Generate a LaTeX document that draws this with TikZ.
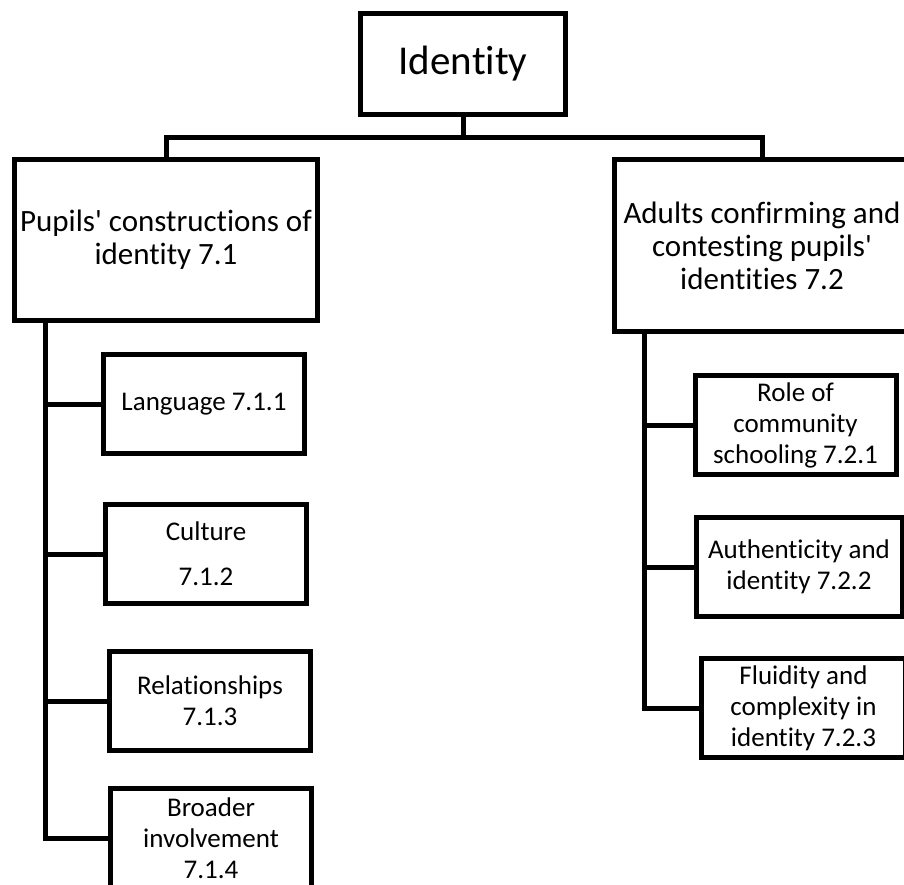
\documentclass[tikz,border=0pt]{standalone}
\usepackage{fontspec}
\setmainfont{Carlito}[Ligatures={NoCommon}]
\begin{document}
\begin{tikzpicture}[x=1pt,y=-1pt,
  box/.style={draw,line width=5pt,align=center,inner sep=0pt},
  topbox/.style={box,font=\fontsize{41}{48}\selectfont},
  midbox/.style={box,font=\fontsize{31}{33}\selectfont},
  subbox/.style={box,font=\fontsize{27}{31}\selectfont,minimum width=201pt,minimum height=99pt},
  link/.style={line width=5pt}]

% page frame
\clip (0,0) rectangle (904,885);

% top box
\node[topbox,minimum width=205pt,minimum height=101pt] (ident) at (463,64) {Identity};

% two main themes
\node[midbox,minimum width=303pt,minimum height=161pt] (pupils) at (166,240)
  {Pupils\textquotesingle{} constructions of\\identity 7.1};
\node[midbox,minimum width=295pt,minimum height=172pt] (adults) at (762,245.5)
  {Adults confirming and\\contesting pupils\textquotesingle\\identities 7.2};

% sub themes, left
\node[subbox] (lang) at (204,404) {Language 7.1.1};
\node[subbox] (cult) at (206,554) {Culture\\[14pt]7.1.2};
\node[subbox] (rel) at (210,701) {Relationships\\7.1.3};
\node[subbox] (broad) at (211,838) {Broader\\involvement\\7.1.4};

% sub themes, right
\node[subbox] (role) at (795.5,425) {Role of\\community\\schooling 7.2.1};
\node[subbox,minimum width=206pt] (auth) at (799,567) {Authenticity and\\identity 7.2.2};
\node[subbox,minimum width=204pt] (fluid) at (803.5,708) {Fluidity and\\complexity in\\identity 7.2.3};

% top connectors
\coordinate (bus) at (463,138);
\draw[link] (ident.south) -- (bus) -| (pupils.north);
\draw[link] (bus) -| (adults.north);

% left spine
\coordinate (spineL) at (45,0);
\draw[link] (spineL |- pupils.south) |- (broad.west);
\foreach \n in {lang,cult,rel}
  \draw[link] (spineL |- \n.west) -- (\n.west);

% right spine
\coordinate (spineR) at (644,0);
\draw[link] (spineR |- adults.south) |- (fluid.west);
\foreach \n in {role,auth}
  \draw[link] (spineR |- \n.west) -- (\n.west);

\end{tikzpicture}
\end{document}
